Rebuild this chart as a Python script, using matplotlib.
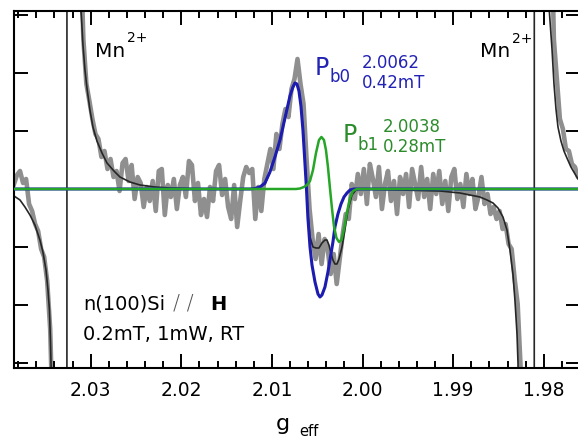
import numpy as np
import matplotlib
matplotlib.use('Agg')
import matplotlib.pyplot as plt
from matplotlib.ticker import MultipleLocator, FormatStrFormatter

plt.rcParams['font.family'] = ['DejaVu Sans']

# =============================================================================
#                       DATA  (g_eff , EPR signal in a.u.)
# =============================================================================

# measured spectrum, sampled on an even g grid
g_first = 2.03846
g_last = 1.97590
data_au = [5, 14, 18, 6, 10, -15, -22, -35, -42, -60,
           -68, -92, -140, -250, np.nan, np.nan, np.nan, np.nan, np.nan, np.nan,
           np.nan, np.nan, 250, 150, 105, 88, 70, 55, 50, 32,
           38, 20, 30, 12, 18, -2, 26, 30, 8, 24,
           -10, 12, 6, -18, 2, -12, 8, -22, 18, 20,
           -26, 4, -8, 10, -20, 4, 12, -8, 28, 24,
           -12, 6, -26, -10, -28, 2, -12, 18, 24, -6,
           10, -18, -30, 4, -38, -12, 12, 22, 16, 20,
           -30, 2, -22, 10, 25, 40, 20, 55, 40, 65,
           80, 72, 100, 110, 130, 105, 85, 30, -20, -50,
           -70, -45, -75, -50, -60, -85, -65, -95, -70, -45,
           -25, -30, 5, -10, 15, -5, 20, -15, 25, 10,
           -8, 22, -20, 5, 18, -12, 8, -25, 12, -5,
           15, -18, 20, 5, -10, 22, -8, 10, -20, 15,
           -5, 18, -15, 8, -22, 12, 20, -10, 5, -18,
           15, -5, 10, -20, -8, 12, -15, -5, -25, -18,
           -30, -22, -40, -35, -55, -60, -90, -115, -180, -300,
           np.nan, np.nan, np.nan, np.nan, np.nan, np.nan, np.nan, np.nan, 300, 150,
           110, 70, 60, 40, 38, 25, 22, 12, 15]

# total fit (Mn2+ lines + Pb0 + Pb1)
fit_g = [2.03846, 2.03780, 2.03725, 2.03670, 2.03615, 2.03560, 2.03527, 2.03493,
         2.03471, 2.03455, 2.03444, 2.03433, 2.03416, 2.03264, 2.03260, 2.03129,
         2.03113, 2.03102, 2.03085, 2.03063, 2.03041, 2.03008, 2.02975, 2.02931,
         2.02875, 2.02820, 2.02743, 2.02677, 2.02567, 2.02456, 2.02291, 2.02125,
         2.01794, 2.01242, 2.01154, 2.01077, 2.01022, 2.00967, 2.00911, 2.00856,
         2.00801, 2.00768, 2.00746, 2.00724, 2.00702, 2.00680, 2.00658, 2.00636,
         2.00619, 2.00603, 2.00580, 2.00547, 2.00514, 2.00481, 2.00448, 2.00415,
         2.00393, 2.00371, 2.00349, 2.00327, 2.00305, 2.00283, 2.00260, 2.00227,
         2.00194, 2.00161, 2.00117, 2.00073, 2.00029, 1.99587, 1.99146, 1.98925,
         1.98815, 1.98705, 1.98627, 1.98561, 1.98506, 1.98451, 1.98407, 1.98374,
         1.98341, 1.98319, 1.98296, 1.98285, 1.98269, 1.98108, 1.98103, 1.97954,
         1.97938, 1.97910, 1.97888, 1.97866, 1.97844, 1.97811, 1.97778, 1.97745,
         1.97701, 1.97656, 1.97623, 1.97601]
fit_au = [-7, -11, -18, -26, -36, -51, -63, -81,
          -101, -121, -151, -191, -300, -2000, 2000, 300,
          184, 172, 144, 119, 101, 79, 62, 48,
          36, 26, 18, 12, 7, 4, 2, 1,
          0, 0, 1, 5, 17, 32, 49, 71,
          93, 102, 106, 105, 98, 83, 60, 27,
          3, -25, -48, -58, -59, -59, -54, -51,
          -51, -56, -64, -71, -75, -75, -70, -58,
          -40, -21, -6, -1, 0, -1, -2, -4,
          -6, -8, -11, -14, -19, -28, -41, -61,
          -85, -111, -145, -174, -300, -2000, 2000, 300,
          176, 140, 105, 80, 62, 48, 38, 31,
          22, 15, 10, 8]

# Pb0 component
pb0_g = [2.03846, 2.01242, 2.01187, 2.01132, 2.01077, 2.01022, 2.00967, 2.00911,
         2.00856, 2.00801, 2.00768, 2.00746, 2.00724, 2.00702, 2.00680, 2.00658,
         2.00636, 2.00619, 2.00603, 2.00580, 2.00558, 2.00525, 2.00492, 2.00470,
         2.00448, 2.00415, 2.00382, 2.00360, 2.00327, 2.00305, 2.00272, 2.00238,
         2.00205, 2.00172, 2.00139, 2.00095, 1.97601]
pb0_au = [0, 0, 0.5, 2, 6, 17, 32, 49,
          71, 93, 102, 106, 105, 98, 83, 59,
          26, 0, -29, -58, -76, -93, -105, -108,
          -106, -98, -83, -71, -53, -38, -25, -15,
          -8, -4, -1, 0, 0]

# Pb1 component
pb1_g = [2.03846, 2.00735, 2.00691, 2.00647, 2.00614, 2.00580, 2.00547, 2.00514,
         2.00481, 2.00454, 2.00426, 2.00404, 2.00382, 2.00360, 2.00338, 2.00316,
         2.00288, 2.00260, 2.00233, 2.00205, 2.00172, 2.00139, 2.00106, 2.00062,
         1.97601]
pb1_au = [0, 0, 0.5, 2, 4, 8, 19, 36,
          49, 52, 49, 39, 22, 1, -19, -37,
          -49, -53, -51, -40, -23, -9, -2, 0,
          0]

xtick_vals = [2.03, 2.02, 2.01, 2.00, 1.99, 1.98]
ytick_vals = [-174, -116, -58, 0, 58, 116, 174]

# =============================================================================
#                              PLOT
# =============================================================================

fig = plt.figure(figsize=(5.78, 4.38), dpi=100)
ax = fig.add_axes([0.02422, 0.15982, 0.97924, 0.81507])

g_data = np.linspace(g_first, g_last, len(data_au))
ax.plot(g_data, data_au, color='#8f8f8f', lw=3.3, solid_joinstyle='round', zorder=1)
ax.plot(fit_g, fit_au, color='#262626', lw=1.2, zorder=2)
ax.plot(pb0_g, pb0_au, color='#1c1cb0', lw=2.2, zorder=3)
ax.plot(pb1_g, pb1_au, color='#26a626', lw=1.8, zorder=4)

ax.set_xlim(2.03846, 1.97601)
ax.set_ylim(-179, 178)
ax.set_xticks(xtick_vals)
ax.xaxis.set_major_formatter(FormatStrFormatter('%.2f'))
ax.xaxis.set_minor_locator(MultipleLocator(0.002))
ax.set_yticks(ytick_vals)
ax.set_yticklabels([])
ax.tick_params(which='both', direction='in', top=True, right=True, width=1.4,
               labelsize=13.5, pad=9.5)
ax.tick_params(which='major', length=10)
ax.tick_params(which='minor', length=5)
for s in ax.spines.values():
    s.set_linewidth(1.5)

# labels inside the plot
ax.text(2.02953, 132, 'Mn', fontsize=14.5, va='baseline')
ax.text(2.02600, 147, '2+', fontsize=10, va='baseline')
ax.text(1.98704, 132, 'Mn', fontsize=14.5, va='baseline')
ax.text(1.98355, 146, '2+', fontsize=10, va='baseline')

blue_t = '#2222b4'
green_t = '#2c8c2c'
ax.text(2.00525, 114, 'P', fontsize=17, color=blue_t, va='baseline')
ax.text(2.00360, 107, 'b0', fontsize=12, color=blue_t, va='baseline')
ax.text(2.00007, 121, '2.0062', fontsize=12, color=blue_t, va='baseline')
ax.text(2.00007, 101, '0.42mT', fontsize=12, color=blue_t, va='baseline')

ax.text(2.00216, 47, 'P', fontsize=17, color=green_t, va='baseline')
ax.text(2.00051, 39, 'b1', fontsize=12, color=green_t, va='baseline')
ax.text(1.99775, 57, '2.0038', fontsize=12, color=green_t, va='baseline')
ax.text(1.99775, 37, '0.28mT', fontsize=12, color=green_t, va='baseline')

ax.text(2.03085, -121, 'n(100)Si', fontsize=14, va='baseline')
ax.text(2.02090, -121, '/ /', fontsize=15, fontweight=200, color='#555555',
        va='baseline')
ax.text(2.01684, -121, 'H', fontsize=14, fontweight='bold', va='baseline')
ax.text(2.03085, -151, '0.2mT, 1mW, RT', fontsize=14, va='baseline')

# x label g_eff
fig.text(276 / 578, 1 - 430 / 438, 'g', fontsize=16, va='baseline')
fig.text(299 / 578, 1 - 436 / 438, 'eff', fontsize=10.5, va='baseline')

fig.savefig('out.png', dpi=100)
